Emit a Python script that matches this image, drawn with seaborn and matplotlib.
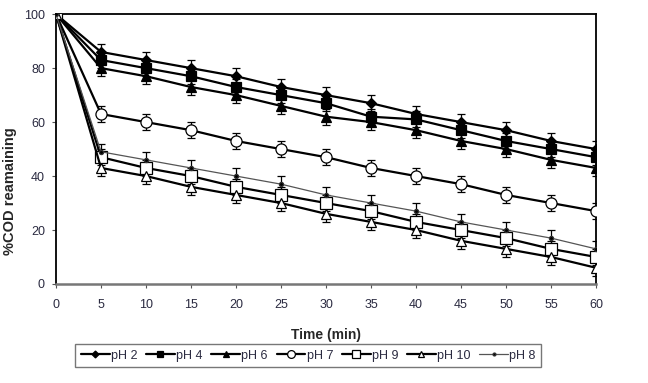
import numpy as np
import pandas as pd
import seaborn as sns
import matplotlib.pyplot as plt

time = [0, 5, 10, 15, 20, 25, 30, 35, 40, 45, 50, 55, 60]
ph2 = [100, 86, 83, 80, 77, 73, 70, 67, 63, 60, 57, 53, 50]
ph4 = [100, 83, 80, 77, 73, 70, 67, 62, 61, 57, 53, 50, 47]
ph6 = [100, 80, 77, 73, 70, 66, 62, 60, 57, 53, 50, 46, 43]
ph7 = [100, 63, 60, 57, 53, 50, 47, 43, 40, 37, 33, 30, 27]
ph9 = [100, 47, 43, 40, 36, 33, 30, 27, 23, 20, 17, 13, 10]
ph10 = [100, 43, 40, 36, 33, 30, 26, 23, 20, 16, 13, 10, 6]
ph8 = [100, 49, 46, 43, 40, 37, 33, 30, 27, 23, 20, 17, 13]
err = [0, 3, 3, 3, 3, 3, 3, 3, 3, 3, 3, 3, 3]

series = [("pH 2", ph2), ("pH 4", ph4), ("pH 6", ph6), ("pH 7", ph7),
          ("pH 9", ph9), ("pH 10", ph10), ("pH 8", ph8)]

# marker, size, filled, line colour, line width
styles = {
    "pH 2": ("D", 5, True, "black", 1.6),
    "pH 4": ("s", 7, True, "black", 1.6),
    "pH 6": ("^", 7, True, "black", 1.6),
    "pH 7": ("o", 8, False, "black", 1.6),
    "pH 9": ("s", 8, False, "black", 1.6),
    "pH 10": ("^", 7, False, "black", 1.6),
    "pH 8": ("o", 3, True, "#555555", 0.9),
}

sns.set_style("white")
plt.rcParams['font.family'] = ['Liberation Sans', 'DejaVu Sans']

fig = plt.figure(figsize=(6.48, 3.83), dpi=100)
ax = fig.add_axes([0.0864, 0.2585, 0.8336, 0.7045])

for name, vals in series:
    m, ms, filled, col, lw = styles[name]
    df = pd.DataFrame({"t": time, "v": vals})
    ax.errorbar(time, vals, yerr=err, fmt="none", ecolor="black",
                elinewidth=0.9, capsize=3, capthick=0.9, zorder=2)
    sns.lineplot(data=df, x="t", y="v", ax=ax, color=col, linewidth=lw,
                 marker=m, markersize=ms,
                 markerfacecolor=("black" if filled else "white"),
                 markeredgecolor="black" if name != "pH 8" else "#333333",
                 markeredgewidth=0.9, label=name, zorder=3)

ax.set_xlim(0, 60)
ax.set_ylim(0, 100)
ax.set_xticks(time)
ax.set_yticks([0, 20, 40, 60, 80, 100])
ax.tick_params(axis="both", labelsize=9, length=3, width=0.8,
               direction="out", colors="#555555", labelcolor="#2a2a40")
ax.tick_params(axis="x", pad=8)
ax.tick_params(axis="y", pad=5)
ax.xaxis.set_ticks_position("bottom")
ax.yaxis.set_ticks_position("left")
for s in ["left", "top", "right"]:
    ax.spines[s].set_color("black")
    ax.spines[s].set_linewidth(1.3)
ax.spines["bottom"].set_color("#777777")
ax.spines["bottom"].set_linewidth(1.8)

ax.set_xlabel("Time (min)", fontsize=10, fontweight="bold", labelpad=12)
ax.set_ylabel("%COD reamaining", fontsize=10.5, fontweight="bold")
ax.yaxis.set_label_coords(-0.072, 0.344)

leg = ax.legend(loc="upper center", bbox_to_anchor=(0.467, -0.2), ncol=7,
                fontsize=9, frameon=True, fancybox=False, handlelength=2.3,
                handletextpad=0.1, columnspacing=0.7, borderpad=0.45)
leg.get_frame().set_edgecolor("#555555")
leg.get_frame().set_linewidth(1.0)
for t in leg.get_texts():
    t.set_color("#2a2a40")
for h in leg.legend_handles:
    h.set_markersize(h.get_markersize() * 0.7)

fig.savefig("out.png", dpi=100)
